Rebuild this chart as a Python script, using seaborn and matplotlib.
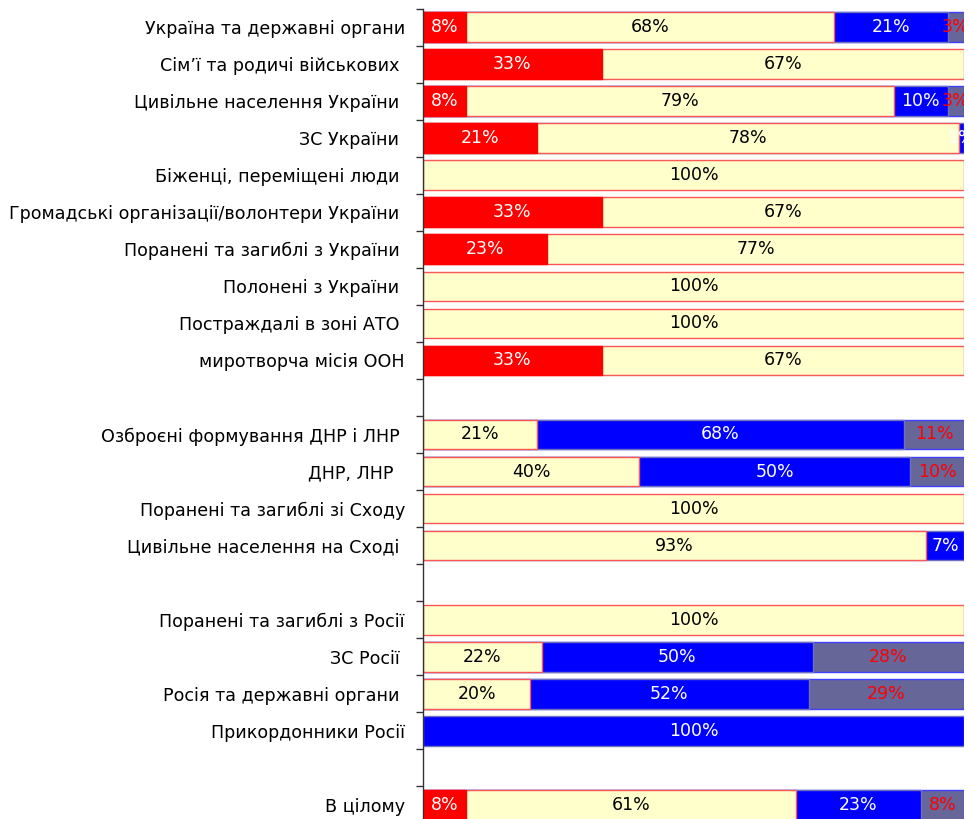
import matplotlib

matplotlib.use("Agg")
import matplotlib.pyplot as plt
import numpy as np
import pandas as pd
import seaborn as sns


# rows from top to bottom, "" keys mark the empty gaps between groups
labels = [
    "Україна та державні органи",
    "Сім’ї та родичі військових ",
    "Цивільне населення України ",
    "ЗС України ",
    "Біженці, переміщені люди ",
    "Громадські організації/волонтери України ",
    "Поранені та загиблі з України ",
    "Полонені з України ",
    "Постраждалі в зоні АТО ",
    "миротворча місія ООН",
    "",
    "Озброєні формування ДНР і ЛНР ",
    "ДНР, ЛНР  ",
    "Поранені та загиблі зі Сходу",
    "Цивільне населення на Сході ",
    "",
    "Поранені та загиблі з Росії",
    "ЗС Росії ",
    "Росія та державні органи ",
    "Прикордонники Росії",
    "",
    "В цілому",
]

positive = [8, 33, 8, 21, 0, 33, 23, 0, 0, 33, 0, 0, 0, 0, 0, 0, 0, 0, 0, 0, 0, 8]
neutral = [68, 67, 79, 78, 100, 67, 77, 100, 100, 67, 0, 21, 40, 100, 93, 0, 100, 22, 20, 0, 0, 61]
negative = [21, 0, 10, 1, 0, 0, 0, 0, 0, 0, 0, 68, 50, 0, 7, 0, 0, 50, 52, 100, 0, 23]
other = [3, 0, 3, 0, 0, 0, 0, 0, 0, 0, 0, 11, 10, 0, 0, 0, 0, 28, 29, 0, 0, 8]

segments = ["positive", "neutral", "negative", "other"]
fill_colors = {"positive": "#FF0000", "neutral": "#FFFFCC", "negative": "#0000FF", "other": "#666699"}
edge_colors = {"positive": "#FF0000", "neutral": "#FF5555", "negative": "#7070C0", "other": "#4040FF"}
text_colors = {"positive": "white", "neutral": "black", "negative": "white", "other": "#FF0000"}


def build_frame() -> pd.DataFrame:
    df = pd.DataFrame(
        {"positive": positive, "neutral": neutral, "negative": negative, "other": other}
    )
    df["key"] = [f"row{i}" for i in range(len(labels))]
    totals = df[segments].sum(axis=1).replace(0, np.nan)
    shares = df[segments].div(totals, axis=0) * 100
    cum = shares.cumsum(axis=1)
    for seg in segments:
        df[f"{seg}_share"] = shares[seg]
        df[f"{seg}_end"] = cum[seg]
    return df


def main() -> None:
    sns.set_theme(style="white")
    plt.rcParams["font.family"] = ["DejaVu Sans"]

    df = build_frame()
    order = df["key"].tolist()

    fig = plt.figure(figsize=(9.7, 8.19), dpi=100)
    ax = fig.add_axes([423 / 970, 0.0, 541 / 970, (819 - 8.5) / 819])

    # stack by overlaying cumulative bars, widest first
    for seg in reversed(segments):
        part = df[df[seg] > 0]
        sns.barplot(
            data=part,
            x=f"{seg}_end",
            y="key",
            order=order,
            orient="h",
            color=fill_colors[seg],
            edgecolor=edge_colors[seg],
            linewidth=1,
            width=0.8,
            saturation=1,
            ax=ax,
        )

    for i, row in df.iterrows():
        for seg in segments:
            if row[seg] <= 0:
                continue
            center = row[f"{seg}_end"] - row[f"{seg}_share"] / 2
            ax.text(
                center, i, f"{row[seg]}%", ha="center", va="center",
                fontsize=12.5, color=text_colors[seg], clip_on=True,
            )

    ax.set_xlim(0, 100)
    ax.set_ylim(21.38, -0.5)
    ax.set_xlabel("")
    ax.set_ylabel("")
    ax.set_xticks([])
    ax.set_yticks(range(len(labels)))
    ax.set_yticklabels(labels, fontsize=12.6, color="black")
    ax.set_yticks(np.arange(-0.5, len(labels) - 0.5, 1), minor=True)
    ax.tick_params(axis="y", which="major", length=0, pad=13)
    ax.tick_params(axis="y", which="minor", length=5, width=1, color="#333333", left=True)

    for side in ["top", "right", "bottom"]:
        ax.spines[side].set_visible(False)
    ax.spines["left"].set_color("#333333")
    ax.spines["left"].set_linewidth(1)

    fig.savefig("out.png", dpi=100)
    plt.close(fig)


if __name__ == "__main__":
    main()
